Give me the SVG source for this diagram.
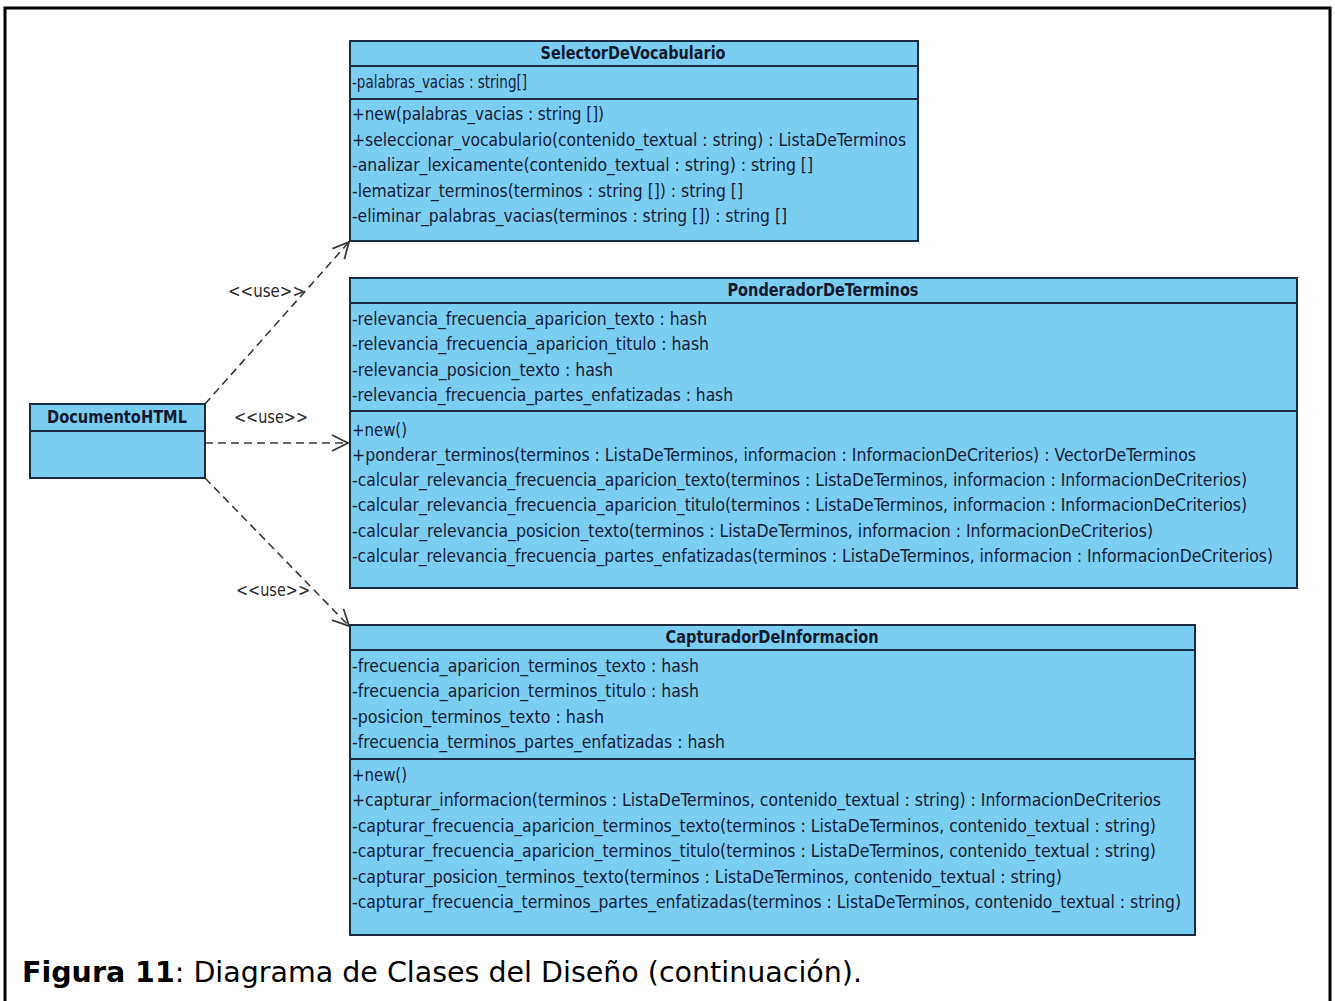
<svg xmlns="http://www.w3.org/2000/svg" width="1335" height="1001" viewBox="0 0 1335 1001">
  <style>
    .box { fill: #7BCDF1; stroke: #1C2B45; stroke-width: 2; }
    .sep { stroke: #1C2B45; stroke-width: 2; }
    .t { font-family: "DejaVu Sans Condensed", "DejaVu Sans", sans-serif; font-stretch: condensed; font-size: 18px; fill: #14203A; }
    .title { font-family: "DejaVu Sans Condensed", "DejaVu Sans", sans-serif; font-stretch: condensed; font-size: 17px; font-weight: bold; fill: #101A30; }
    .lbl { font-family: "DejaVu Sans Condensed", "DejaVu Sans", sans-serif; font-stretch: condensed; font-size: 17px; fill: #2A2A2A; }
    .dep { stroke: #3A3A3A; stroke-width: 1.6; stroke-dasharray: 8 5; fill: none; }
    .caption { font-family: "DejaVu Sans Condensed", "DejaVu Sans", sans-serif; font-stretch: condensed; font-size: 28px; fill: #000; }
  </style>
  <defs>
    <marker id="open" viewBox="0 0 20 20" refX="18" refY="10" markerWidth="20" markerHeight="20" markerUnits="userSpaceOnUse" orient="auto">
      <path d="M2,2 L18,10 L2,18" fill="none" stroke="#3A3A3A" stroke-width="1.8"/>
    </marker>
  </defs>

  <rect width="1335" height="1001" fill="#FFFFFF"/>
  <!-- page frame -->
  <path d="M5,1005 L5,8 L1330,8 L1330,1005" fill="none" stroke="#000" stroke-width="3"/>

  <!-- dependencies -->
  <g id="connectors">
    <path class="dep" d="M205,404 L349,242" marker-end="url(#open)"/>
    <path class="dep" d="M205,443 L348,443" marker-end="url(#open)"/>
    <path class="dep" d="M205,478 L349,626" marker-end="url(#open)"/>
    <text class="lbl" x="228" y="297" textLength="77" lengthAdjust="spacingAndGlyphs">&lt;&lt;use&gt;&gt;</text>
    <text class="lbl" x="234" y="423" textLength="74" lengthAdjust="spacingAndGlyphs">&lt;&lt;use&gt;&gt;</text>
    <text class="lbl" x="236" y="596" textLength="74" lengthAdjust="spacingAndGlyphs">&lt;&lt;use&gt;&gt;</text>
  </g>

  <!-- DocumentoHTML -->
  <g id="DocumentoHTML">
    <rect class="box" x="30" y="404" width="175" height="74"/>
    <line class="sep" x1="30" y1="431" x2="205" y2="431"/>
    <text class="title" x="117" y="423" text-anchor="middle" textLength="140" lengthAdjust="spacingAndGlyphs">DocumentoHTML</text>
  </g>

  <!-- SelectorDeVocabulario -->
  <g id="SelectorDeVocabulario">
    <rect class="box" x="350" y="41" width="568" height="200"/>
    <line class="sep" x1="350" y1="66" x2="918" y2="66"/>
    <line class="sep" x1="350" y1="99" x2="918" y2="99"/>
    <text class="title" x="633" y="59" text-anchor="middle" textLength="185" lengthAdjust="spacingAndGlyphs">SelectorDeVocabulario</text>
    <text class="t" x="352" y="88" textLength="175" lengthAdjust="spacingAndGlyphs">-palabras_vacias : string[]</text>
    <text class="t" x="352" y="120" textLength="252" lengthAdjust="spacingAndGlyphs">+new(palabras_vacias : string [])</text>
    <text class="t" x="352" y="146" textLength="554" lengthAdjust="spacingAndGlyphs">+seleccionar_vocabulario(contenido_textual : string) : ListaDeTerminos</text>
    <text class="t" x="352" y="171" textLength="461" lengthAdjust="spacingAndGlyphs">-analizar_lexicamente(contenido_textual : string) : string []</text>
    <text class="t" x="352" y="197" textLength="391" lengthAdjust="spacingAndGlyphs">-lematizar_terminos(terminos : string []) : string []</text>
    <text class="t" x="352" y="222" textLength="435" lengthAdjust="spacingAndGlyphs">-eliminar_palabras_vacias(terminos : string []) : string []</text>
  </g>

  <!-- PonderadorDeTerminos -->
  <g id="PonderadorDeTerminos">
    <rect class="box" x="350" y="278" width="947" height="310"/>
    <line class="sep" x1="350" y1="303" x2="1297" y2="303"/>
    <line class="sep" x1="350" y1="411" x2="1297" y2="411"/>
    <text class="title" x="823" y="296" text-anchor="middle" textLength="191" lengthAdjust="spacingAndGlyphs">PonderadorDeTerminos</text>
    <text class="t" x="352" y="325" textLength="355" lengthAdjust="spacingAndGlyphs">-relevancia_frecuencia_aparicion_texto : hash</text>
    <text class="t" x="352" y="350" textLength="357" lengthAdjust="spacingAndGlyphs">-relevancia_frecuencia_aparicion_titulo : hash</text>
    <text class="t" x="352" y="376" textLength="261" lengthAdjust="spacingAndGlyphs">-relevancia_posicion_texto : hash</text>
    <text class="t" x="352" y="401" textLength="381" lengthAdjust="spacingAndGlyphs">-relevancia_frecuencia_partes_enfatizadas : hash</text>
    <text class="t" x="352" y="436" textLength="55" lengthAdjust="spacingAndGlyphs">+new()</text>
    <text class="t" x="352" y="461" textLength="844" lengthAdjust="spacingAndGlyphs">+ponderar_terminos(terminos : ListaDeTerminos, informacion : InformacionDeCriterios) : VectorDeTerminos</text>
    <text class="t" x="352" y="486" textLength="895" lengthAdjust="spacingAndGlyphs">-calcular_relevancia_frecuencia_aparicion_texto(terminos : ListaDeTerminos, informacion : InformacionDeCriterios)</text>
    <text class="t" x="352" y="511" textLength="895" lengthAdjust="spacingAndGlyphs">-calcular_relevancia_frecuencia_aparicion_titulo(terminos : ListaDeTerminos, informacion : InformacionDeCriterios)</text>
    <text class="t" x="352" y="537" textLength="801" lengthAdjust="spacingAndGlyphs">-calcular_relevancia_posicion_texto(terminos : ListaDeTerminos, informacion : InformacionDeCriterios)</text>
    <text class="t" x="352" y="562" textLength="921" lengthAdjust="spacingAndGlyphs">-calcular_relevancia_frecuencia_partes_enfatizadas(terminos : ListaDeTerminos, informacion : InformacionDeCriterios)</text>
  </g>

  <!-- CapturadorDeInformacion -->
  <g id="CapturadorDeInformacion">
    <rect class="box" x="350" y="625" width="845" height="310"/>
    <line class="sep" x1="350" y1="650" x2="1195" y2="650"/>
    <line class="sep" x1="350" y1="759" x2="1195" y2="759"/>
    <text class="title" x="772" y="643" text-anchor="middle" textLength="213" lengthAdjust="spacingAndGlyphs">CapturadorDeInformacion</text>
    <text class="t" x="352" y="672" textLength="347" lengthAdjust="spacingAndGlyphs">-frecuencia_aparicion_terminos_texto : hash</text>
    <text class="t" x="352" y="697" textLength="347" lengthAdjust="spacingAndGlyphs">-frecuencia_aparicion_terminos_titulo : hash</text>
    <text class="t" x="352" y="723" textLength="252" lengthAdjust="spacingAndGlyphs">-posicion_terminos_texto : hash</text>
    <text class="t" x="352" y="748" textLength="373" lengthAdjust="spacingAndGlyphs">-frecuencia_terminos_partes_enfatizadas : hash</text>
    <text class="t" x="352" y="781" textLength="55" lengthAdjust="spacingAndGlyphs">+new()</text>
    <text class="t" x="352" y="806" textLength="809" lengthAdjust="spacingAndGlyphs">+capturar_informacion(terminos : ListaDeTerminos, contenido_textual : string) : InformacionDeCriterios</text>
    <text class="t" x="352" y="832" textLength="804" lengthAdjust="spacingAndGlyphs">-capturar_frecuencia_aparicion_terminos_texto(terminos : ListaDeTerminos, contenido_textual : string)</text>
    <text class="t" x="352" y="857" textLength="804" lengthAdjust="spacingAndGlyphs">-capturar_frecuencia_aparicion_terminos_titulo(terminos : ListaDeTerminos, contenido_textual : string)</text>
    <text class="t" x="352" y="883" textLength="710" lengthAdjust="spacingAndGlyphs">-capturar_posicion_terminos_texto(terminos : ListaDeTerminos, contenido_textual : string)</text>
    <text class="t" x="352" y="908" textLength="829" lengthAdjust="spacingAndGlyphs">-capturar_frecuencia_terminos_partes_enfatizadas(terminos : ListaDeTerminos, contenido_textual : string)</text>
  </g>

  <!-- caption -->
  <text class="caption" x="22" y="982" textLength="840" lengthAdjust="spacingAndGlyphs"><tspan font-weight="bold">Figura 11</tspan>: Diagrama de Clases del Diseño (continuación).</text>
</svg>
